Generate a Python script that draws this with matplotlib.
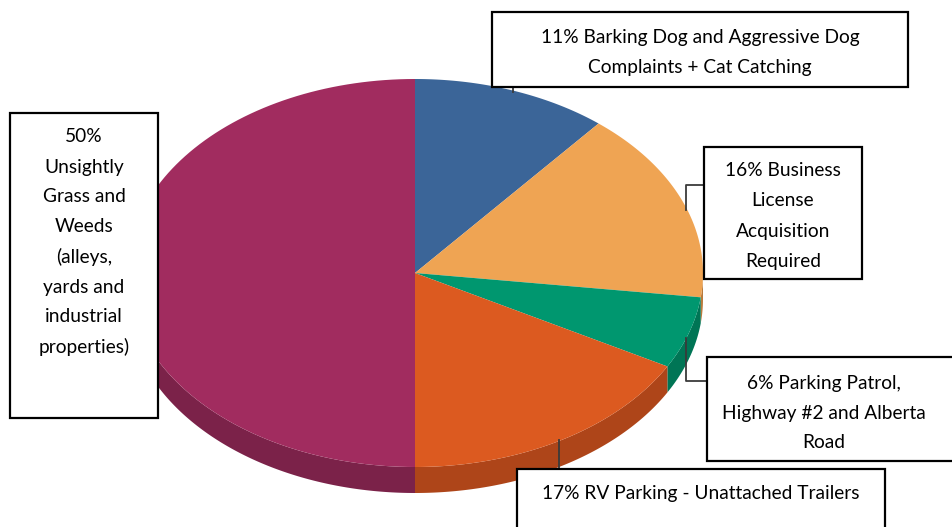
import numpy as np
import matplotlib
matplotlib.use("Agg")
import matplotlib.pyplot as plt
from matplotlib.patches import Polygon, Rectangle

# share of complaints by category, clockwise from 12 o'clock
categories = [
    "Barking Dog and Aggressive Dog Complaints + Cat Catching",
    "Business License Acquisition Required",
    "Parking Patrol, Highway #2 and Alberta Road",
    "RV Parking - Unattached Trailers",
    "Unsightly Grass and Weeds (alleys, yards and industrial properties)",
]
shares = [11, 16, 6, 17, 50]
top_colors = ["#3B6598", "#EFA453", "#00976F", "#DC5A20", "#A12C5F"]
side_colors = ["#2C4C73", "#B97B3C", "#007555", "#AE4519", "#7B2249"]

label_texts = [
    "11% Barking Dog and Aggressive Dog\nComplaints + Cat Catching",
    "16% Business\nLicense\nAcquisition\nRequired",
    "6% Parking Patrol,\nHighway #2 and Alberta\nRoad",
    "17% RV Parking - Unattached Trailers",
    "50%\nUnsightly\nGrass and\nWeeds\n(alleys,\nyards and\nindustrial\nproperties)",
]

W, H = 953, 527
fig = plt.figure(figsize=(W / 100, H / 100), dpi=100)
ax = fig.add_axes([0, 0, 1, 1])
ax.set_xlim(0, W)
ax.set_ylim(H, 0)
ax.axis("off")

cx, cy, rx, ry, depth = 415, 273, 288, 194, 26


def arc(t1, t2, n=120, dy=0):
    t = np.radians(np.linspace(t1, t2, n))
    return np.column_stack([cx + rx * np.cos(t), cy - ry * np.sin(t) + dy])


# slice angles, going clockwise from the top
bounds = 90 - 360 * np.concatenate([[0], np.cumsum(shares)]) / sum(shares)

# rim of the front half first
for i in range(len(shares)):
    a1, a2 = bounds[i], bounds[i + 1]
    lo, hi = max(a2, -180), min(a1, 0)
    if hi <= lo:
        continue
    top = arc(hi, lo)
    bottom = arc(lo, hi, dy=depth)
    ax.add_patch(Polygon(np.vstack([top, bottom]), closed=True,
                         facecolor=side_colors[i], edgecolor="none", zorder=1))

# top faces
for i in range(len(shares)):
    pts = np.vstack([[cx, cy], arc(bounds[i], bounds[i + 1])])
    ax.add_patch(Polygon(pts, closed=True, facecolor=top_colors[i],
                         edgecolor="none", zorder=2))

# leader lines
leader_kw = dict(color="#3a3a3a", lw=1.3, zorder=3)
ax.plot([513, 513], [87, 92], **leader_kw)
ax.plot([706, 686, 686], [185, 185, 210], **leader_kw)
ax.plot([686, 686, 707], [338, 381, 381], **leader_kw)
ax.plot([559, 559], [440, 470], **leader_kw)

# label boxes: (left, top, right, bottom, first text line y)
boxes = [
    (492, 12, 908, 87, 37),
    (704, 147, 862, 279, 171),
    (707, 357, 970, 461, 383),
    (517, 469, 885, 540, 494),
    (10, 113, 158, 418, 137),
]
line_step = 30
for (x0, y0, x1, y1, ty), txt in zip(boxes, label_texts):
    ax.add_patch(Rectangle((x0, y0), x1 - x0, y1 - y0, facecolor="white",
                           edgecolor="black", lw=1.6, zorder=4))
    xc = (x0 + x1) / 2 if x1 < W else (x0 + 940) / 2
    for k, line in enumerate(txt.split("\n")):
        ax.text(xc, ty + k * line_step, line, ha="center", va="center",
                fontsize=13.8, family="Lato", color="black", zorder=5)

fig.savefig("out.png", dpi=100)
